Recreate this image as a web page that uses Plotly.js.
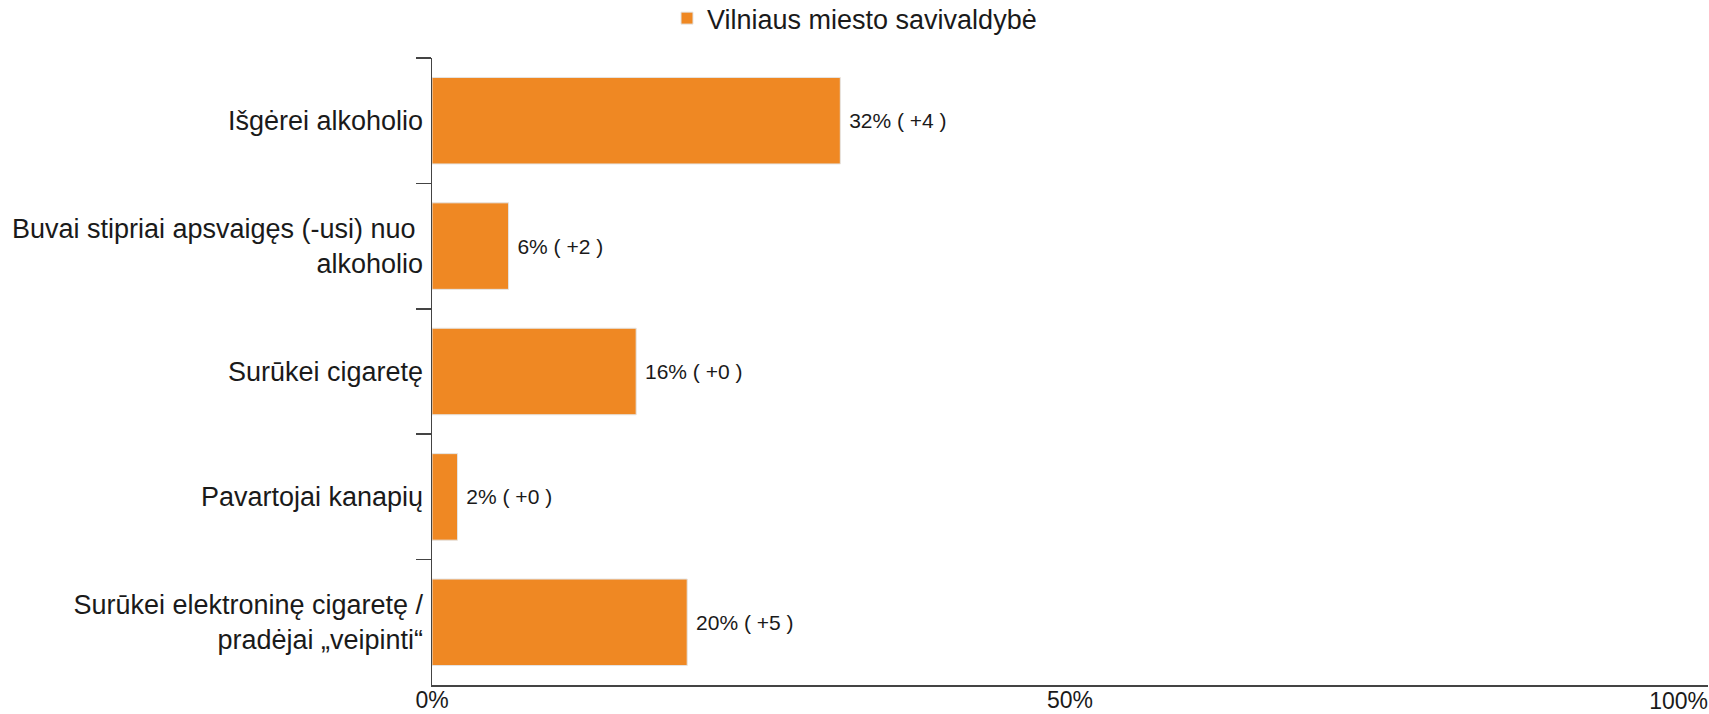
<!DOCTYPE html>
<html>
<head>
<meta charset="utf-8">
<script src="https://cdn.plot.ly/plotly-3.0.1.min.js"></script>
<style>
html,body{margin:0;padding:0;background:#fff;}
#chart{width:1709px;height:714px;}
</style>
</head>
<body>
<div id="chart"></div>
<script>
const categories = [
  "Išgėrei alkoholio",
  "Buvai stipriai apsvaigęs (-usi) nuo <br>alkoholio",
  "Surūkei cigaretę",
  "Pavartojai kanapių",
  "Surūkei elektroninę cigaretę /<br>pradėjai „veipinti“"
];
const values = [32, 6, 16, 2, 20];
const changes = [4, 2, 0, 0, 5];
const seriesName = "Vilniaus miesto savivaldybė";
const xTickVals = [0, 50, 100];
const xTickLabels = ["0%", "50%", "100%"];

const barText = values.map((v, i) => "\u00a0" + v + "% ( " + (changes[i] >= 0 ? "+" : "") + changes[i] + " )");
const last = xTickVals.length - 1;

const FONT = "Liberation Sans, Arial, sans-serif";

const trace = {
  type: "bar",
  orientation: "h",
  name: seriesName,
  y: categories,
  x: values,
  text: barText,
  textposition: "outside",
  cliponaxis: false,
  textfont: {family: FONT, size: 21, color: "#1a1a1a"},
  marker: {color: "#EF8823", line: {color: "#e4e4e4", width: 1}},
  hoverinfo: "skip",
  showlegend: true
};

// invisible helper so the overlaying axis (last tick label, right-aligned) is drawn
const helper = {
  type: "scatter",
  mode: "none",
  x: values,
  y: categories,
  xaxis: "x2",
  yaxis: "y",
  hoverinfo: "skip",
  showlegend: false
};

const tickFont = {family: FONT, size: 23, color: "#1a1a1a"};

const layout = {
  width: 1709,
  height: 714,
  margin: {l: 432, r: 1, t: 58, b: 29, pad: 0},
  paper_bgcolor: "#ffffff",
  plot_bgcolor: "#ffffff",
  font: {family: FONT, color: "#1a1a1a"},
  bargap: 0.31,
  showlegend: true,
  legend: {
    orientation: "h",
    x: 0.5, xref: "container", xanchor: "center",
    y: 0.974, yref: "container", yanchor: "middle",
    font: {family: FONT, size: 27, color: "#1a1a1a"},
    itemwidth: 30,
    traceorder: "normal"
  },
  xaxis: {
    range: [0, 100],
    tickvals: xTickVals.slice(0, last),
    ticktext: xTickLabels.slice(0, last),
    tickfont: tickFont,
    ticklabelstandoff: -7,
    showgrid: false,
    zeroline: false,
    showline: true,
    linecolor: "#444",
    linewidth: 2,
    ticks: "",
    fixedrange: true
  },
  xaxis2: {
    overlaying: "x",
    anchor: "y",
    side: "bottom",
    range: [0, 100],
    tickvals: [xTickVals[last]],
    ticktext: [xTickLabels[last]],
    ticklabelposition: "outside left",
    tickfont: tickFont,
    ticklabelstandoff: 0,
    showgrid: false,
    zeroline: false,
    showline: false,
    ticks: "",
    fixedrange: true
  },
  yaxis: {
    type: "category",
    autorange: "reversed",
    tickson: "boundaries",
    ticks: "outside",
    ticklen: 15,
    tickwidth: 1.5,
    tickcolor: "#444",
    ticklabelstandoff: 2,
    tickfont: {family: FONT, size: 27, color: "#1a1a1a"},
    showgrid: false,
    zeroline: false,
    showline: true,
    linecolor: "#444",
    linewidth: 1.5,
    fixedrange: true
  }
};

Plotly.newPlot("chart", [trace, helper], layout, {displayModeBar: false, staticPlot: true});
</script>
</body>
</html>
